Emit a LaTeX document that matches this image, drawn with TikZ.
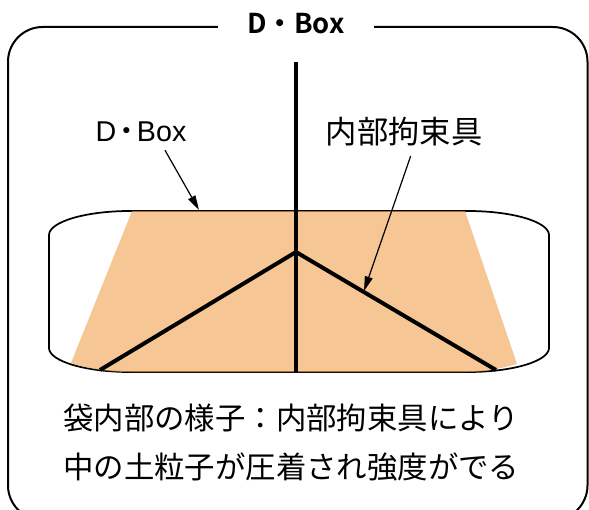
\documentclass[tikz,border=0pt]{standalone}
\usepackage{fontspec}
\usetikzlibrary{arrows.meta,positioning}
\newfontfamily\jpfont[BoldFont={Noto Sans CJK JP Bold}]{Noto Sans CJK JP}
\newfontfamily\latinfont{Liberation Sans}
\definecolor{sandfill}{RGB}{242,168,92}

\begin{document}
\begin{tikzpicture}[x=0.75pt,y=-0.75pt,
 frame/.style={line width=1.5pt,rounded corners=26pt},
 bagline/.style={line width=1.3pt},
 tie/.style={line width=3pt,line join=miter},
 callout/.style={-{Triangle[length=11pt,width=6pt]},line width=0.9pt},
 lab/.style={inner sep=0pt},
 note/.style={anchor=base west,inner sep=0pt,font=\jpfont\fontsize{22.8}{27}\selectfont}]
\clip (0,0) rectangle (589,510);
% outer frame with title
\draw[frame] (8,27) rectangle (587.5,520);
\node[fill=white,inner xsep=22pt,inner ysep=2pt,font=\jpfont\bfseries\fontsize{20.5}{24}\selectfont] (title) at (296,24) {D・Box};
% bag outline
\draw[bagline] (130,211) -- (468,211) .. controls (513,211) and (549,222) .. (549,235)
  -- (549,348) .. controls (549,361) and (513,372) .. (468,372)
  -- (130,372) .. controls (85,372) and (49,361) .. (49,348)
  -- (49,235) .. controls (49,222) and (85,211) .. (130,211) -- cycle;
% compressed soil inside
\fill[sandfill,fill opacity=0.65] (132,211) -- (465,211) -- (517,364)
  .. controls (502,368) and (486,372) .. (468,372) -- (130,372)
  .. controls (110,372) and (88,369) .. (71,363) -- cycle;
% internal restraint
\coordinate (top) at (296,62);
\coordinate (apex) at (296,252);
\coordinate (base) at (296,372);
\coordinate (legl) at (100,370);
\coordinate (legr) at (496,370);
\draw[tie] (top) -- (base);
\draw[tie] (legl) -- (apex) -- (legr);
% labels
\node[lab,font=\latinfont\fontsize{21.5}{25}\selectfont] (boxlab) at (141,132) {D\kern-3pt{\jpfont ・}\kern-3pt Box};
\node[lab,font=\jpfont\fontsize{23.5}{28}\selectfont] (reslab) at (404,132) {内部拘束具};
\coordinate (boxtip) at (199,210);
\coordinate (restip) at (364,291);
\draw[callout] ([xshift=18pt,yshift=-6pt]boxlab.south) -- (boxtip);
\draw[callout] ([xshift=5pt,yshift=-7pt]reslab.south) -- (restip);
% caption
\node[note] (note1) at (63,429) {袋内部の様子：内部拘束具により};
\node[note] (note2) at (63,478) {中の土粒子が圧着され強度がでる};
\end{tikzpicture}
\end{document}
